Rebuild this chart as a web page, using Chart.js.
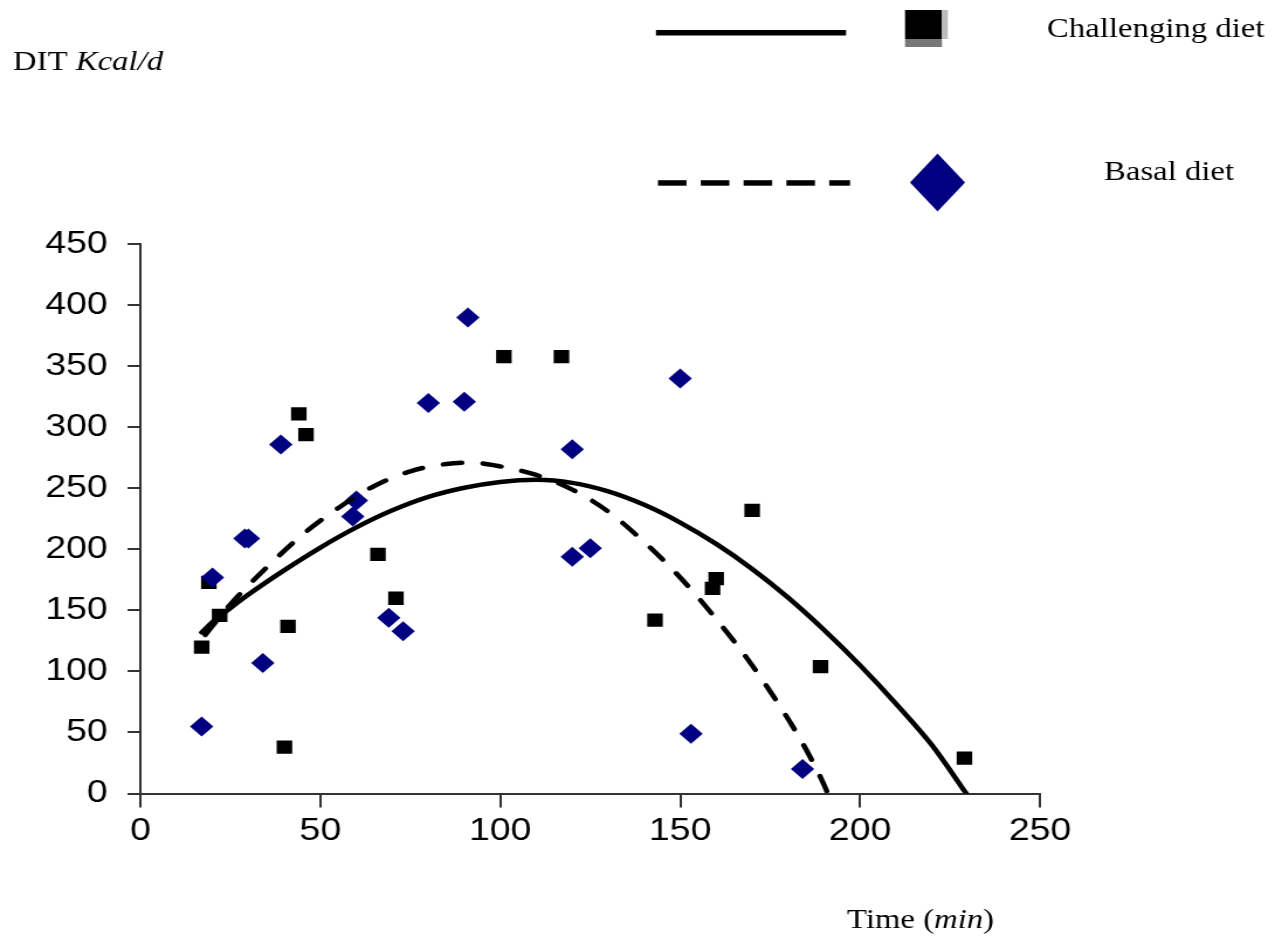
<!DOCTYPE html>
<html>
<head>
<meta charset="utf-8">
<script src="https://cdn.jsdelivr.net/npm/chart.js@4.4.0/dist/chart.umd.min.js"></script>
<style>
  html, body { margin: 0; padding: 0; background: #ffffff; overflow: hidden; }
  #c { display: block; }
</style>
</head>
<body>
<canvas id="c" width="1096" height="942" style="width:1282px;height:942px;"></canvas>
<script>
// ---- data ----
const challengingTime = [17, 19, 22, 40, 41, 44, 46, 66, 71, 101, 117, 143, 160, 159, 170, 189, 229];
const challengingDIT  = [120, 173, 146, 38, 137, 311, 294, 196, 160, 358, 358, 142, 176, 168, 232, 104, 29];

const basalTime = [17, 20, 29, 30, 34, 39, 60, 59, 69, 73, 80, 90, 91, 120, 120, 125, 150, 153, 184];
const basalDIT  = [55, 177, 209, 209, 107, 286, 240, 227, 144, 133, 320, 321, 390, 282, 194, 201, 340, 49, 20];

// trend curves
const challengingFitTime = [17, 20, 25, 30, 40, 50, 60, 70, 80, 90, 100, 110, 120, 130, 140, 150, 160, 170, 180, 190, 200, 210, 220, 229.5];
const challengingFitDIT  = [132, 140.5, 152, 163, 183, 201.5, 218, 232, 243, 250.5, 255.3, 257, 254.5, 247.5, 236.5, 222, 204.5, 184, 160.5, 134, 105, 73.5, 39.5, 0];

const basalFitTime = [18, 25, 35, 45, 55, 65, 75, 85, 92, 100, 110, 120, 130, 140, 150, 160, 170, 180, 185, 190, 191];
const basalFitDIT  = [130, 155, 185, 212, 234, 252, 264, 270, 271, 268, 261, 249, 231, 206, 177, 143, 105, 61, 36, 7, 0];

const xTickValues = [0, 50, 100, 150, 200, 250];
const yTickValues = [0, 50, 100, 150, 200, 250, 300, 350, 400, 450];

const seriesNames = ['Challenging diet', 'Basal diet'];
const yTitleMain = 'DIT ';
const yTitleUnit = 'Kcal/d';
const xTitleMain = 'Time (';
const xTitleUnit = 'min';
const xTitleEnd = ')';

const NAVY = '#000080';
const AXIS = '#333333';

const zip = (xs, ys) => xs.map((x, i) => ({ x: x, y: ys[i] }));

// ---- decorations: legend and titles ----
const decor = {
  id: 'decor',
  afterDraw(chart) {
    const ctx = chart.ctx;
    ctx.save();
    // legend: solid line + square
    ctx.fillStyle = '#000';
    ctx.fillRect(560.8, 30, 162.5, 5.5);
    ctx.fillStyle = '#000';
    ctx.fillRect(773.7, 10, 31.6, 29);
    ctx.fillStyle = '#777';
    ctx.fillRect(773.7, 39, 31.6, 8);
    ctx.fillStyle = '#bbb';
    ctx.fillRect(805.3, 10, 5, 29);

    // legend: dashed line + diamond
    ctx.fillStyle = '#000';
    for (let i = 0; i < 5; i++) {
      const x0 = 562.5 + i * 36.6;
      const x1 = Math.min(x0 + 24.4, 726.7);
      ctx.fillRect(x0, 180.2, x1 - x0, 5.5);
    }
    ctx.fillStyle = NAVY;
    ctx.beginPath();
    ctx.moveTo(801.5 - 23.5, 182.5);
    ctx.lineTo(801.5, 182.5 - 29);
    ctx.lineTo(801.5 + 23.5, 182.5);
    ctx.lineTo(801.5, 182.5 + 29);
    ctx.closePath();
    ctx.fill();

    // texts
    ctx.fillStyle = '#000';
    ctx.textBaseline = 'alphabetic';
    ctx.textAlign = 'left';
    const normal = '28px "Liberation Serif", "Times New Roman", serif';
    const italic = 'italic 28px "Liberation Serif", "Times New Roman", serif';

    ctx.font = normal;
    ctx.fillText(seriesNames[0], 895.1, 37);
    ctx.fillText(seriesNames[1], 943.8, 180);

    // y title
    let x = 11.1;
    ctx.font = normal;
    ctx.fillText(yTitleMain, x, 70);
    x += ctx.measureText(yTitleMain).width;
    ctx.font = italic;
    ctx.fillText(yTitleUnit, x, 70);

    // x title
    x = 724.1;
    ctx.font = normal;
    ctx.fillText(xTitleMain, x, 928);
    x += ctx.measureText(xTitleMain).width;
    ctx.font = italic;
    ctx.fillText(xTitleUnit, x, 928);
    x += ctx.measureText(xTitleUnit).width;
    ctx.font = normal;
    ctx.fillText(xTitleEnd, x, 928);
    ctx.restore();
  }
};

const tickFont = { family: '"Liberation Sans", Arial, sans-serif', size: 32, lineHeight: 1 };

new Chart(document.getElementById('c'), {
  type: 'scatter',
  data: {
    datasets: [
      {
        label: seriesNames[0] + ' fit',
        data: zip(challengingFitTime, challengingFitDIT),
        showLine: true,
        borderColor: '#000',
        borderWidth: 4.5,
        pointRadius: 0,
        cubicInterpolationMode: 'monotone',
        borderCapStyle: 'round',
        borderJoinStyle: 'round',
        order: 0
      },
      {
        label: seriesNames[1] + ' fit',
        data: zip(basalFitTime, basalFitDIT),
        showLine: true,
        borderColor: '#000',
        borderWidth: 4.5,
        borderDash: [16, 18],
        borderCapStyle: 'round',
        pointRadius: 0,
        cubicInterpolationMode: 'monotone',
        order: 0
      },
      {
        label: seriesNames[1],
        data: zip(basalTime, basalDIT),
        pointStyle: 'rectRot',
        pointRadius: 10,
        backgroundColor: NAVY,
        borderColor: NAVY,
        borderWidth: 0,
        order: 1
      },
      {
        label: seriesNames[0],
        data: zip(challengingTime, challengingDIT),
        pointStyle: 'rect',
        pointRadius: 9.4,
        backgroundColor: '#000',
        borderColor: '#000',
        borderWidth: 0,
        order: 2
      }
    ]
  },
  options: {
    responsive: false,
    devicePixelRatio: 1,
    animation: false,
    events: [],
    layout: { padding: { left: 0, right: 206.9, top: 244.3, bottom: 0 } },
    plugins: {
      legend: { display: false },
      tooltip: { enabled: false },
      title: { display: false }
    },
    scales: {
      x: {
        type: 'linear',
        min: 0, max: 250,
        afterBuildTicks: s => { s.ticks = xTickValues.map(v => ({ value: v })); },
        afterFit: s => { s.height = 148.5; },
        grid: { drawOnChartArea: false, drawTicks: true, tickLength: 14, color: AXIS, lineWidth: 2 },
        border: { display: true, color: AXIS, width: 2 },
        ticks: { color: '#000', font: tickFont, padding: 8, maxRotation: 0 }
      },
      y: {
        type: 'linear',
        min: 0, max: 450,
        afterBuildTicks: s => { s.ticks = yTickValues.map(v => ({ value: v })); },
        afterFit: s => { s.width = 120.1; },
        grid: { drawOnChartArea: false, drawTicks: true, tickLength: 11, color: AXIS, lineWidth: 2 },
        border: { display: true, color: AXIS, width: 2 },
        ticks: { color: '#000', font: tickFont, padding: 17 }
      }
    }
  },
  plugins: [decor]
});
</script>
</body>
</html>
